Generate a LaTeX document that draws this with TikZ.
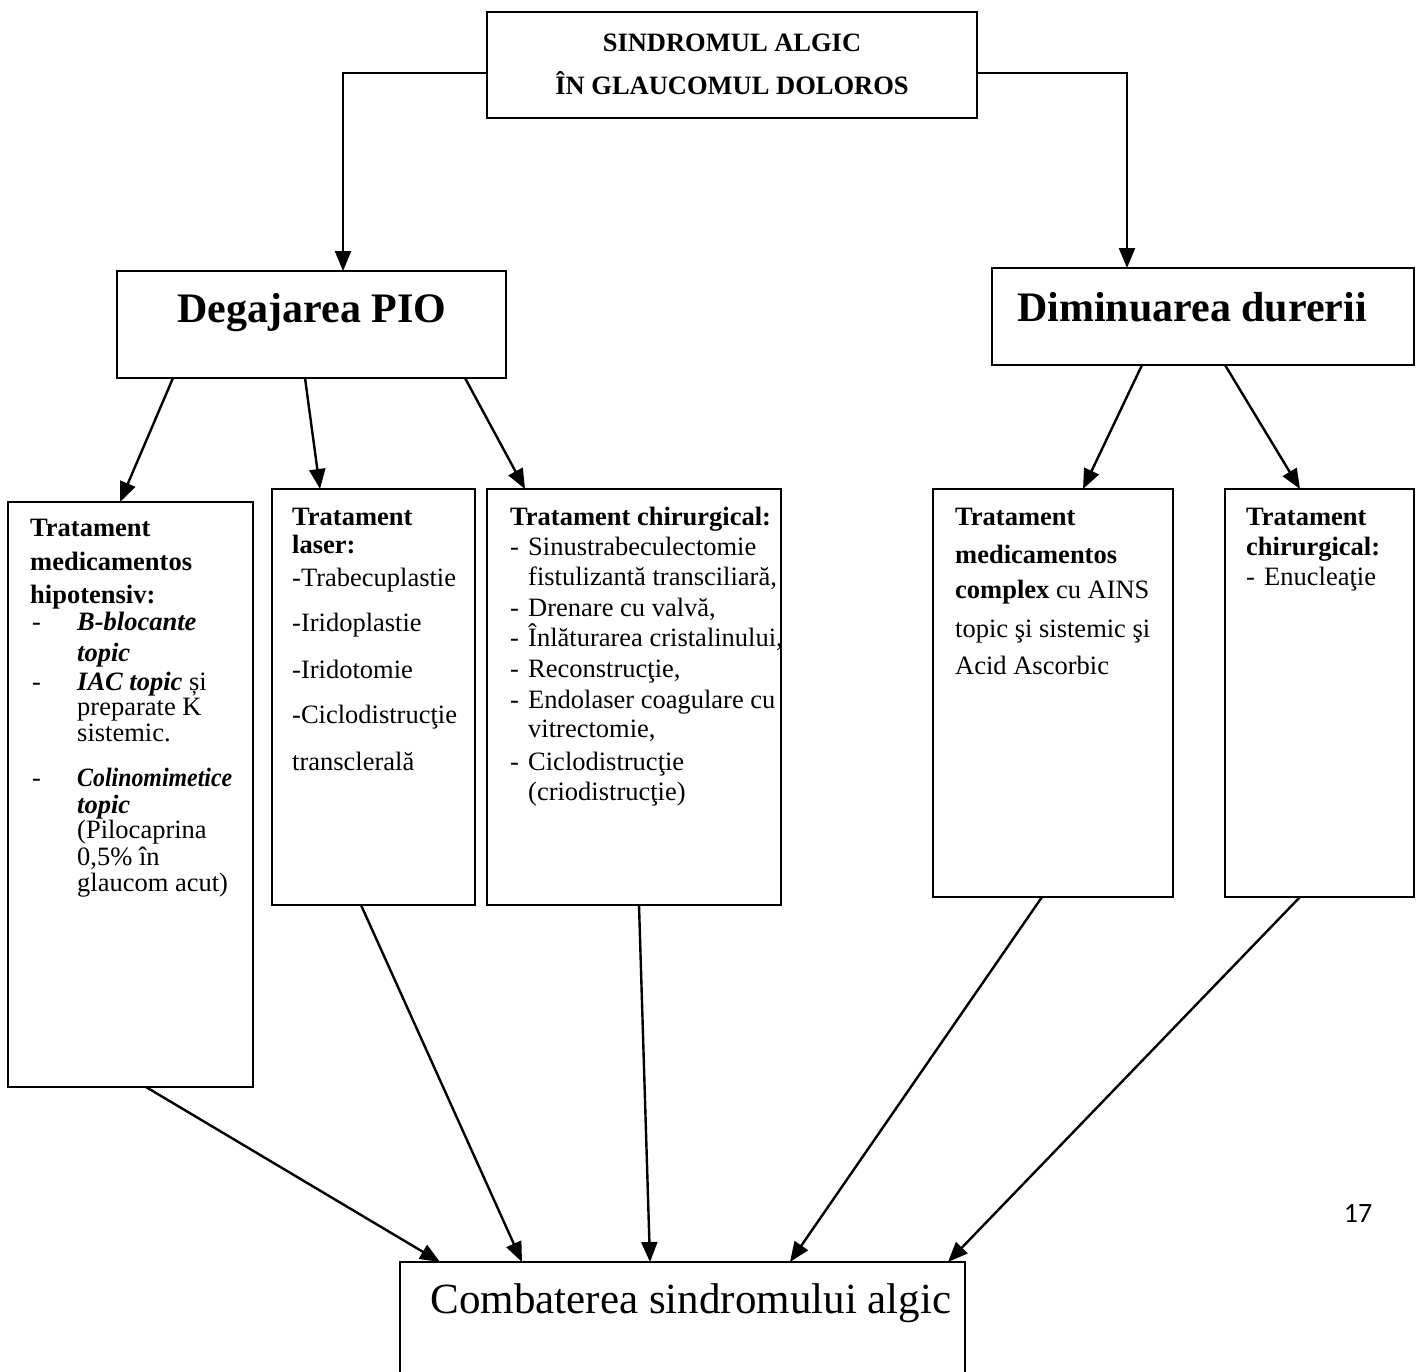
\documentclass[tikz,border=0pt]{standalone}
\usepackage{fontspec}
\setmainfont{Liberation Serif}
\newfontfamily\pagefont{Carlito}
\usetikzlibrary{calc,arrows.meta}
\tikzset{
  box/.style={draw, line width=2pt, outer sep=0pt, inner sep=0pt, anchor=north west},
  arr/.style={line width=2.4pt, -{Triangle[length=20pt,width=16pt]}},
  txt/.style={anchor=base west, inner sep=0pt, font=\fontsize{26.5}{30}\selectfont},
}
\newcommand\tline[4]{\node[txt] (#1) at (#2,#3) {#4};}
\begin{document}
\begin{tikzpicture}[x=1pt,y=-1pt]
\fill[white] (0,0) rectangle (1421,1371);
\clip (0,0) rectangle (1421,1371);
% boxes
\node[box, minimum width=490pt, minimum height=106pt] (top) at (487,12) {};
\node[box, minimum width=389pt, minimum height=107pt] (deg) at (117,271) {};
\node[box, minimum width=422pt, minimum height=97pt] (dim) at (992,268) {};
\node[box, minimum width=245pt, minimum height=585pt] (b1) at (8,502) {};
\node[box, minimum width=203pt, minimum height=416pt] (b2) at (272,489) {};
\node[box, minimum width=294pt, minimum height=416pt] (b3) at (487,489) {};
\node[box, minimum width=240pt, minimum height=408pt] (b4) at (933,489) {};
\node[box, minimum width=189pt, minimum height=408pt] (b5) at (1225,489) {};
\node[box, minimum width=565pt, minimum height=130pt] (bot) at (400,1262) {};
% titles
\node[anchor=base, inner sep=0pt, font=\fontsize{26.5}{30}\selectfont\bfseries] (t1) at (732,51) {SINDROMUL ALGIC};
\node[anchor=base, inner sep=0pt, font=\fontsize{26.5}{30}\selectfont\bfseries] (t2) at (732,94) {ÎN GLAUCOMUL DOLOROS};
\node[anchor=base, inner sep=0pt, font=\fontsize{42}{48}\selectfont\bfseries] (tdeg) at (312,322) {Degajarea PIO};
\node[anchor=base, inner sep=0pt, font=\fontsize{42}{48}\selectfont\bfseries] (tdim) at (1192,321) {Diminuarea durerii};
\node[anchor=base, inner sep=0pt, font=\fontsize{43}{48}\selectfont] (tbot) at (691,1313) {Combaterea sindromului algic};
\node[anchor=base, inner sep=0pt, font=\pagefont\fontsize{28}{32}\selectfont] (pg) at (1358,1222) {17};
% box 1
\tline{ba}{30}{536}{\textbf{Tratament}}
\tline{bb}{30}{570}{\textbf{medicamentos}}
\tline{bc}{30}{603}{\textbf{hipotensiv:}}
\tline{bd}{32}{630}{-}
\tline{be}{77}{630}{\textbf{\textit{B-blocante}}}
\tline{bf}{77}{661}{\textbf{\textit{topic}}}
\tline{bg}{32}{690}{-}
\tline{bh}{77}{690}{\textbf{\textit{IAC topic}} și}
\tline{bi}{77}{715}{preparate K}
\tline{bj}{77}{741}{sistemic.}
\tline{bk}{32}{786}{-}
\tline{bl}{77}{786}{\scalebox{0.9}[1]{\textbf{\textit{Colinomimetice}}}}
\tline{bm}{77}{813}{\textbf{\textit{topic}}}
\tline{bn}{77}{838}{(Pilocaprina}
\tline{bo}{77}{865}{0,5\% în}
\tline{bp}{77}{891}{glaucom acut)}
% box 2
\tline{ca}{292}{525}{\textbf{Tratament}}
\tline{cb}{292}{553}{\textbf{laser:}}
\tline{cc}{292}{586}{-Trabecuplastie}
\tline{cd}{292}{631}{-Iridoplastie}
\tline{ce}{292}{678}{-Iridotomie}
\tline{cf}{292}{723}{-Ciclodistrucţie}
\tline{cg}{292}{770}{transclerală}
% box 3
\tline{da}{510}{525}{\textbf{Tratament chirurgical:}}
\tline{db}{510}{555}{-}
\tline{dc}{528}{555}{Sinustrabeculectomie}
\tline{dd}{528}{585}{fistulizantă transciliară,}
\tline{de}{510}{616}{-}
\tline{df}{528}{616}{Drenare cu valvă,}
\tline{dg}{510}{646}{-}
\tline{dh}{528}{646}{Înlăturarea cristalinului,}
\tline{di}{510}{677}{-}
\tline{dj}{528}{677}{Reconstrucţie,}
\tline{dk}{510}{708}{-}
\tline{dl}{528}{708}{Endolaser coagulare cu}
\tline{dm}{528}{737}{vitrectomie,}
\tline{dn}{510}{770}{-}
\tline{do}{528}{770}{Ciclodistrucţie}
\tline{dp}{528}{800}{(criodistrucţie)}
% box 4
\tline{ea}{955}{525}{\textbf{Tratament}}
\tline{eb}{955}{563}{\textbf{medicamentos}}
\tline{ec}{955}{598}{\textbf{complex} cu AINS}
\tline{ed}{955}{637}{topic şi sistemic şi}
\tline{ee}{955}{674}{Acid Ascorbic}
% box 5
\tline{fa}{1246}{525}{\textbf{Tratament}}
\tline{fb}{1246}{555}{\textbf{chirurgical:}}
\tline{fc}{1246}{585}{-}
\tline{fd}{1264}{585}{Enucleaţie}
% connectors
\draw[arr] ([yshift=-8pt]top.west) -| ($(deg.north west)+(226,0)$);
\draw[arr] ([yshift=-8pt]top.east) -| ($(dim.north west)+(135,0)$);
\draw[arr] ($(deg.south west)+(56,0)$) -- ($(b1.north west)+(112,0)$);
\draw[arr] ($(deg.south west)+(188,0)$) -- ($(b2.north west)+(48,0)$);
\draw[arr] ($(deg.south west)+(348,0)$) -- ($(b3.north west)+(38,0)$);
\draw[arr] ($(dim.south west)+(150,0)$) -- ($(b4.north west)+(150,0)$);
\draw[arr] ($(dim.south west)+(233,0)$) -- ($(b5.north west)+(75,0)$);
\draw[arr] ($(b1.south west)+(138,0)$) -- ($(bot.north west)+(40,0)$);
\draw[arr] ($(b2.south west)+(89,0)$) -- ($(bot.north west)+(122,0)$);
\draw[arr] ($(b3.south west)+(152,0)$) -- ($(bot.north west)+(250,0)$);
\draw[arr] ($(b4.south west)+(109,0)$) -- ($(bot.north west)+(390,0)$);
\draw[arr] ($(b5.south west)+(75,0)$) -- ($(bot.north west)+(548,0)$);
\end{tikzpicture}
\end{document}
